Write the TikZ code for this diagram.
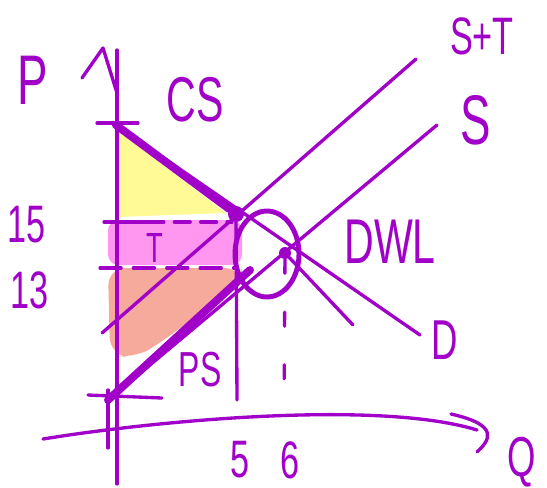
\documentclass[tikz,border=0pt]{standalone}
\usepackage{fontspec}
\setmainfont{Liberation Sans}[FakeStretch=0.65]
\usetikzlibrary{positioning,shapes.geometric}
\definecolor{ink}{RGB}{160,0,200}
\definecolor{csyellow}{RGB}{255,250,150}
\definecolor{tpink}{RGB}{255,150,240}
\definecolor{pssalmon}{RGB}{245,170,155}

\begin{document}
\begin{tikzpicture}[x=0.02cm, y=-0.02cm, line cap=round, line join=round,
    ink/.style={draw=ink, line width=1.9pt},
    heavy/.style={draw=ink, line width=4.5pt},
    lbl/.style={text=ink, inner sep=0pt, font=\fontsize{#1}{#1}\selectfont}]
    \useasboundingbox (0,0) rectangle (547,487);

    % shaded areas
    \fill [csyellow] (117,130) -- (226,213) -- (117,217) -- cycle;
    \fill [tpink, rounded corners=6] (108,220) rectangle (242,265);
    \fill [pssalmon, rounded corners=10] (108,268) -- (242,268) -- (242,282) -- (160,343) -- (135,358) -- (110,355) -- cycle;

    % key points
    \coordinate (yTop) at (117,50);
    \coordinate (yBot) at (117,484);
    \coordinate (yBarb) at (82,78);
    \coordinate (yTip) at (103,48);
    \coordinate (xStart) at (43,439);
    \coordinate (xEnd) at (477,430);
    \coordinate (dTop) at (116,125);
    \coordinate (dEnd) at (420,335);
    \coordinate (sStart) at (108,400);
    \coordinate (sEnd) at (437,125);
    \coordinate (stStart) at (102,333);
    \coordinate (stEnd) at (416,59);
    \coordinate (q5) at (237,400);
    \coordinate (q6) at (284,410);
    \node (eqT) [circle, fill=ink, inner sep=0pt, minimum size=0.32cm] at (236,214) {};
    \node (eq) [circle, fill=ink, inner sep=0pt, minimum size=0.24cm] at (285,253) {};
    \node (dwl) [ellipse, draw=ink, line width=2.8pt, minimum width=1.28cm, minimum height=1.72cm] at (267,254) {};

    % axes
    \draw [ink] (yTop) -- (yBot);
    \draw [ink] (yBarb) -- (yTip) -- (117,93);
    \draw [ink] (108,390) -- (108,448);
    \draw [ink] (xStart) .. controls (160,420) and (380,400) .. (xEnd);
    \draw [ink] (451,414) .. controls (500,425) and (490,440) .. (477,452);

    % ticks and guides
    \draw [ink] (97,123) -- (138,123);
    \draw [ink] (88,395) -- (162,398);
    \draw [ink] (104,222) -- (148,222);
    \draw [ink, dash pattern=on 9pt off 6pt] (148,222) -- (232,222);
    \draw [ink, dash pattern=on 12pt off 7pt] (100,268) -- (234,268);
    \draw [ink] (eqT) -- (q5);
    \draw [ink, dash pattern=on 8pt off 22pt] (eq) -- (q6);

    % curves
    \draw [ink] (sStart) -- (sEnd);
    \draw [ink] (stStart) -- (stEnd);
    \draw [ink] (dTop) -- (dEnd);
    \draw [ink] (eq) -- (353,325);
    \draw [heavy] (dTop) -- (eqT);
    \draw [heavy] (sStart) -- (250,270);

    % labels
    \node (pLbl) [lbl=40] at (33,80) {P};
    \node (qLbl) [lbl=32] at (522,462) {Q};
    \node (csLbl) [lbl=36] at (195,100) {CS};
    \node (stLbl) [lbl=30] at (482,36) {S+T};
    \node (sLbl) [lbl=40] at (476,120) {S};
    \node (dwlLbl) [lbl=36] at (390,242) {DWL};
    \node (dLbl) [lbl=32] at (445,340) {D};
    \node (p15) [lbl=30] at (27,225) {15};
    \node (p13) [lbl=30] at (30,290) {13};
    \node (tLbl) [lbl=24] at (155,248) {T};
    \node (psLbl) [lbl=28] at (200,370) {PS};
    \node (q5Lbl) [lbl=30] at (240,460) {5};
    \node (q6Lbl) [lbl=30] at (290,460) {6};
\end{tikzpicture}
\end{document}
